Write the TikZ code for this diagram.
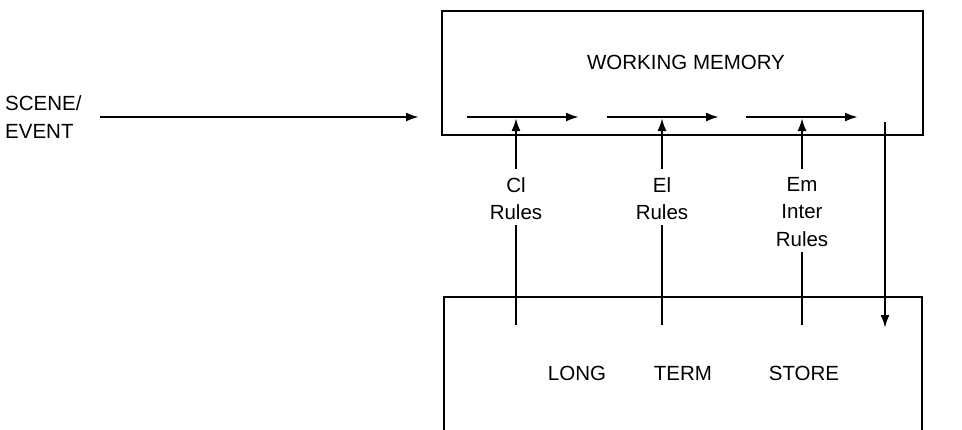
\documentclass[tikz,border=0pt]{standalone}
\usepackage{fontspec}
\setmainfont{Liberation Sans}
\usetikzlibrary{arrows.meta}
\begin{document}
\begin{tikzpicture}[x=1pt,y=-1pt,
  every node/.style={font=\fontsize{20.5}{27.5}\selectfont, inner sep=0pt},
  boxline/.style={line width=2.2pt},
  arr/.style={line width=2.2pt, -{Latex[length=13pt,width=9pt]}},
  ln/.style={line width=2.2pt},
  lbl/.style={align=center, anchor=north}]
\useasboundingbox (0,0) rectangle (962,429);
\clip (0,0) rectangle (962,429);
% boxes
\node[draw, boxline, minimum width=481pt, minimum height=124pt, anchor=north west] (wm) at (441,10) {};
\node at (686,62) (wmt) {WORKING MEMORY};
\node[draw, boxline, minimum width=478pt, minimum height=160pt, anchor=north west] (lts) at (443,296) {};
\node (long) at (577,373) {LONG};
\node (term) at (683,373) {TERM};
\node (store) at (804,373) {STORE};
% input
\node[align=left, anchor=west] (scene) at (5,117) {SCENE/\\EVENT};
\coordinate (in1) at (100,117);
\coordinate (in2) at (419,117);
\draw[arr] (in1) -- (in2);
% internal arrows
\coordinate (a1s) at (467,117); \coordinate (a1e) at (579,117);
\coordinate (a2s) at (607,117); \coordinate (a2e) at (719,117);
\coordinate (a3s) at (746,117); \coordinate (a3e) at (858,117);
\draw[arr] (a1s) -- (a1e);
\draw[arr] (a2s) -- (a2e);
\draw[arr] (a3s) -- (a3e);
% rule labels
\node[lbl] (cl) at (516,177) {Cl\\Rules};
\node[lbl] (el) at (662,177) {El\\Rules};
\node[lbl] (em) at (802,177) {Em\\Inter\\Rules};
\coordinate (clb) at (516,325); \coordinate (clt) at (516,118);
\coordinate (elb) at (662,325); \coordinate (elt) at (662,118);
\coordinate (emb) at (802,325); \coordinate (emt) at (802,118);
\draw[ln] (clb) -- ([yshift=-5pt]cl.south);
\draw[arr] ([yshift=8pt]cl.north) -- (clt);
\draw[ln] (elb) -- ([yshift=-5pt]el.south);
\draw[arr] ([yshift=8pt]el.north) -- (elt);
\draw[ln] (emb) -- ([yshift=-5pt]em.south);
\draw[arr] ([yshift=8pt]em.north) -- (emt);
% output
\coordinate (o1) at (885,122); \coordinate (o2) at (885,328);
\draw[arr] (o1) -- (o2);
\end{tikzpicture}
\end{document}
